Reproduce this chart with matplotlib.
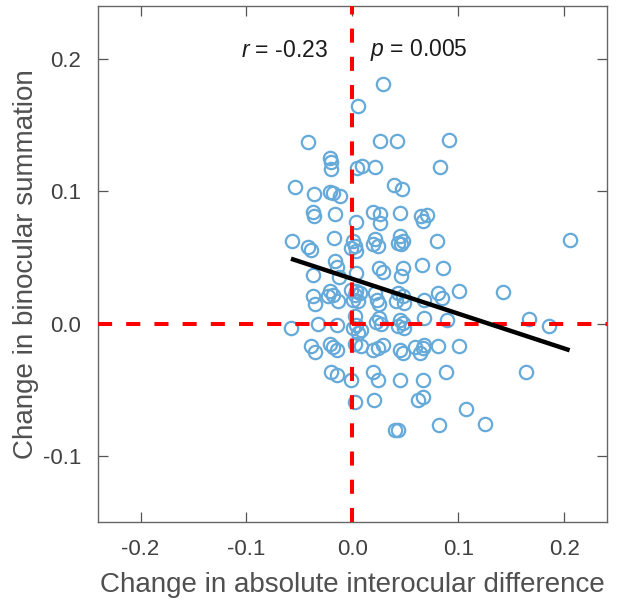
import matplotlib
matplotlib.use("Agg")
import matplotlib.pyplot as plt
import numpy as np
from matplotlib.ticker import FixedLocator, FuncFormatter

plt.rcParams['font.family'] = ['Liberation Sans', 'DejaVu Sans']
plt.rcParams['mathtext.fontset'] = 'custom'
plt.rcParams['mathtext.it'] = 'Liberation Sans:italic'
plt.rcParams['mathtext.rm'] = 'Liberation Sans'

# ---- data ----
x_vals = [
    0.029, 0.005, -0.042, 0.026, 0.042, 0.091, -0.021, -0.020, -0.020, 0.004, 0.009, 0.021, 0.083,
    -0.0544, -0.0365, -0.021, -0.018, -0.0113, 0.039, 0.047,
    -0.037, -0.036, -0.016, 0.003, 0.0195, 0.0258, 0.0258, 0.0446, 0.065, 0.070, 0.067,
    -0.057, -0.042, -0.0387, -0.0174, 0.0006, 0.002, -0.001, 0.0038, 0.021, 0.0195, 0.024,
    0.0446, 0.048, 0.0462, 0.043, 0.080, 0.205,
    -0.0167, -0.015, 0.0038, 0.025, -0.037, 0.029, 0.0477, 0.0462, 0.0658, 0.0855, -0.013,
    -0.037, -0.035, -0.021, -0.023, -0.018, -0.0136,
    -0.001, 0.0038, 0.002, 0.007, 0.0006, 0.0053, 0.021, 0.023, 0.025,
    0.043, 0.048, 0.0415, 0.049, 0.068, 0.081, 0.085, 0.1006, 0.142,
    -0.058, -0.0325, -0.015, 0.002, 0.0038, 0.0006, 0.0085, 0.0053, 0.022, 0.025, 0.027,
    0.0446, 0.0477, 0.043, 0.049, 0.068, 0.089, 0.1667, 0.1855,
    -0.0387, -0.0356, -0.021, -0.018, -0.015, 0.002, 0.0085, 0.0195, 0.024, 0.029,
    0.0446, 0.0477, 0.059, 0.0635, 0.0667, 0.068, 0.081, 0.101,
    -0.0198, -0.015, -0.001, 0.0195, 0.024, 0.0446, 0.0667, 0.088, 0.1635,
    0.002, 0.0204, 0.062, 0.0667, 0.1075,
    0.040, 0.043, 0.082, 0.1248,
]
y_vals = [
    0.181, 0.1645, 0.137, 0.1384, 0.138, 0.139, 0.125, 0.122, 0.117, 0.1174, 0.119, 0.1187, 0.1187,
    0.103, 0.098, 0.0997, 0.0987, 0.0967, 0.1048, 0.1017,
    0.0845, 0.0815, 0.0828, 0.077, 0.0845, 0.0828, 0.076, 0.084, 0.0815, 0.082, 0.0777,
    0.0625, 0.058, 0.056, 0.0645, 0.0625, 0.0587, 0.0575, 0.055, 0.0638, 0.060, 0.0587,
    0.066, 0.0625, 0.060, 0.0607, 0.0625, 0.0633,
    0.0473, 0.043, 0.0385, 0.0425, 0.037, 0.039, 0.0423, 0.0359, 0.0443, 0.0423, 0.035,
    0.0207, 0.015, 0.0245, 0.0207, 0.022, 0.017,
    0.0258, 0.0245, 0.022, 0.0233, 0.018, 0.017, 0.023, 0.018, 0.0146,
    0.0233, 0.0207, 0.017, 0.0157, 0.018, 0.0233, 0.0195, 0.0245, 0.024,
    -0.0033, 0.0, -0.001, 0.0055, -0.0008, -0.0033, -0.0046, -0.007, 0.001, 0.0045, 0.0,
    0.003, 0.0005, -0.002, -0.0033, 0.0043, 0.003, 0.0038, -0.002,
    -0.0165, -0.0215, -0.0155, -0.0172, -0.0195, -0.0155, -0.017, -0.0197, -0.0185, -0.016,
    -0.0197, -0.0223, -0.0172, -0.0223, -0.0185, -0.016, -0.0165, -0.0167,
    -0.0362, -0.0387, -0.0425, -0.0362, -0.0425, -0.0425, -0.0425, -0.0367, -0.0367,
    -0.059, -0.0577, -0.0577, -0.0552, -0.0645,
    -0.0805, -0.080, -0.0767, -0.0759,
]
fit_slope = -0.263
fit_intercept = 0.0339
r_text = r"$\it{r}$ = -0.23"
p_text = r"$\it{p}$ = 0.005"
x_ticks = [-0.2, -0.1, 0.0, 0.1, 0.2]
y_ticks = [-0.1, 0.0, 0.1, 0.2]
x_label = "Change in absolute interocular difference"
y_label = "Change in binocular summation"

# ---- figure ----
fig = plt.figure(figsize=(6.21, 6.07), dpi=100)
ax = fig.add_axes([0.158, 0.1395, 0.819, 0.8505])
xlim = (-0.24, 0.24)
ylim = (-0.15, 0.24)

x = np.array(x_vals)
y = np.array(y_vals)
ax.plot(x, y, linestyle='none', marker='o', markersize=9.6, markerfacecolor='none',
        markeredgecolor='#66AADA', markeredgewidth=1.6, zorder=2)

red_ls = (0, (3.5, 3.5))
ax.plot([0, 0], list(ylim), color='#FF0000', lw=2.9, linestyle=red_ls, zorder=3)
ax.plot(list(xlim), [0, 0], color='#FF0000', lw=2.9, linestyle=red_ls, zorder=3)

xf = np.array([x.min(), x.max()])
ax.plot(xf, fit_intercept + fit_slope * xf, color='black', lw=3.2, zorder=4,
        solid_capstyle='butt')

ax.text(-0.1047, 0.2065, r_text, fontsize=16.5, ha='left', va='center', color='#1a1a1a')
ax.text(0.0163, 0.2065, p_text, fontsize=16.5, ha='left', va='center', color='#1a1a1a')

ax.set_xlim(*xlim)
ax.set_ylim(*ylim)
ax.xaxis.set_major_locator(FixedLocator(x_ticks))
ax.yaxis.set_major_locator(FixedLocator(y_ticks))
fmt = FuncFormatter(lambda v, pos: f"{v:.1f}".replace('\u2212', '-') if abs(v) > 1e-9 else "0.0")
ax.xaxis.set_major_formatter(fmt)
ax.yaxis.set_major_formatter(fmt)
ax.tick_params(direction='in', length=7, width=0.9, color='#555555', labelsize=16,
               labelcolor='#404040', top=True, right=True, pad=12)
for s in ax.spines.values():
    s.set_color('#666666')
    s.set_linewidth(1.0)

ax.set_xlabel(x_label, fontsize=20, color='#505050', labelpad=9)
ax.set_ylabel(y_label, fontsize=20, color='#505050', labelpad=3)

fig.savefig('out.png', dpi=100)
